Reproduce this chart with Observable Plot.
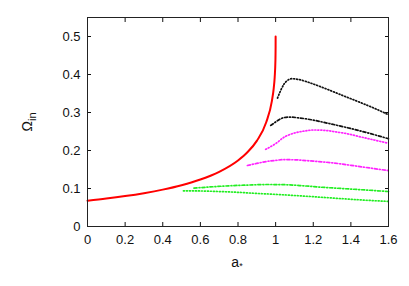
<!DOCTYPE html>
<html>
<head>
<meta charset="utf-8">
<script src="https://cdn.jsdelivr.net/npm/d3@7"></script>
<script src="https://cdn.jsdelivr.net/npm/@observablehq/plot@0.6"></script>
<style>
html,body{margin:0;padding:0;background:#fff;}
#chart svg{font-family:"Liberation Sans",Arial,sans-serif;}
</style>
</head>
<body>
<div id="chart"></div>
<script>
const xTicks = [0, 0.2, 0.4, 0.6, 0.8, 1, 1.2, 1.4, 1.6];
const yTicks = [0, 0.1, 0.2, 0.3, 0.4, 0.5];

const aRed = [0, 0.1, 0.2, 0.3, 0.4, 0.5, 0.6, 0.7, 0.8, 0.85, 0.9, 0.95, 0.98, 0.99, 0.995, 0.999, 0.9999, 1];
const wRed = [0.0680, 0.0735, 0.0800, 0.0877, 0.0970, 0.1086, 0.1236, 0.1439, 0.1738, 0.1953, 0.2254, 0.2742, 0.3300, 0.3644, 0.3925, 0.4379, 0.4734, 0.5];

const aBlackDot = [1.01, 1.027, 1.045, 1.065, 1.089, 1.12, 1.2, 1.275, 1.35, 1.452, 1.53, 1.6];
const wBlackDot = [0.338, 0.358, 0.375, 0.385, 0.389, 0.387, 0.375, 0.361, 0.346, 0.326, 0.310, 0.294];

const aBlackDash = [0.974, 1.0, 1.018, 1.04, 1.071, 1.12, 1.2, 1.275, 1.381, 1.5, 1.6];
const wBlackDash = [0.266, 0.275, 0.281, 0.286, 0.288, 0.286, 0.280, 0.272, 0.260, 0.245, 0.231];

const aMagDot = [0.947, 1.0, 1.045, 1.1, 1.15, 1.204, 1.26, 1.32, 1.381, 1.45, 1.52, 1.6];
const wMagDot = [0.203, 0.218, 0.235, 0.246, 0.251, 0.254, 0.253, 0.249, 0.244, 0.236, 0.228, 0.219];

const aMagDash = [0.85, 0.9, 0.95, 1.0, 1.045, 1.1, 1.2, 1.293, 1.4, 1.5, 1.6];
const wMagDash = [0.1605, 0.166, 0.171, 0.174, 0.176, 0.1755, 0.172, 0.168, 0.161, 0.154, 0.147];

const aGreenDash = [0.566, 0.65, 0.75, 0.85, 0.956, 1.05, 1.15, 1.24, 1.35, 1.45, 1.6];
const wGreenDash = [0.101, 0.104, 0.107, 0.109, 0.1105, 0.110, 0.107, 0.1035, 0.100, 0.097, 0.092];

const aGreenDot = [0.51, 0.6, 0.7, 0.797, 0.9, 1.0, 1.151, 1.3, 1.45, 1.6];
const wGreenDot = [0.094, 0.0935, 0.092, 0.090, 0.087, 0.0845, 0.080, 0.075, 0.070, 0.066];

const toRows = (as, ws) => as.map((a, i) => ({a, w: ws[i]}));

const DOT = "1,2";
const DASHDOT = "3,2,1,2";
const series = [
  {rows: toRows(aGreenDot, wGreenDot), color: "#22ee22", dash: DOT, width: 1.7},
  {rows: toRows(aGreenDash, wGreenDash), color: "#22ee22", dash: DASHDOT, width: 1.7},
  {rows: toRows(aMagDash, wMagDash), color: "#ff22ff", dash: DASHDOT, width: 1.7},
  {rows: toRows(aMagDot, wMagDot), color: "#ff22ff", dash: DOT, width: 1.7},
  {rows: toRows(aBlackDash, wBlackDash), color: "#111111", dash: DASHDOT, width: 1.7},
  {rows: toRows(aBlackDot, wBlackDot), color: "#111111", dash: DOT, width: 1.7},
  {rows: toRows(aRed, wRed), color: "#ff0000", dash: "none", width: 2}
];

const fmt = d => String(d);
const W = 409, H = 286;
const plot = Plot.plot({
  width: W,
  height: H,
  marginLeft: 87,
  marginRight: 21,
  marginTop: 17,
  marginBottom: 60,
  x: {domain: [0, 1.6]},
  y: {domain: [0, 0.55]},
  style: {fontSize: "13px", fontFamily: "Liberation Sans, Arial, sans-serif", color: "#111", background: "#fff"},
  marks: [
    ...series.map(s => Plot.line(s.rows, {x: "a", y: "w", stroke: s.color, strokeWidth: s.width, strokeDasharray: s.dash, curve: "monotone-x"})),
    Plot.axisX({ticks: xTicks, tickSize: -4, tickPadding: 12, tickFormat: fmt, label: null, fill: "#111", fontSize: 13}),
    Plot.axisX({ticks: xTicks, anchor: "top", tickSize: -4, tickFormat: () => "", label: null}),
    Plot.axisY({ticks: yTicks, tickSize: -4, tickPadding: 11, tickFormat: fmt, label: null, fill: "#111", fontSize: 13}),
    Plot.axisY({ticks: yTicks, anchor: "right", tickSize: -4, tickFormat: () => "", label: null}),
    Plot.frame({stroke: "#222", strokeWidth: 1})
  ]
});
document.getElementById("chart").appendChild(plot);

const svg = d3.select(plot);
const yl = svg.append("text")
  .attr("transform", `translate(32,122) rotate(-90)`)
  .attr("text-anchor", "middle")
  .attr("font-size", 14)
  .attr("fill", "#111");
yl.append("tspan").text("Ω");
yl.append("tspan").attr("dy", 4).attr("font-size", 11).text("in");

const xl = svg.append("text")
  .attr("x", 237)
  .attr("y", 267)
  .attr("text-anchor", "middle")
  .attr("font-size", 14)
  .attr("fill", "#111");
xl.append("tspan").text("a");
xl.append("tspan").attr("dy", 2).attr("font-size", 9).text("*");
</script>
</body>
</html>
